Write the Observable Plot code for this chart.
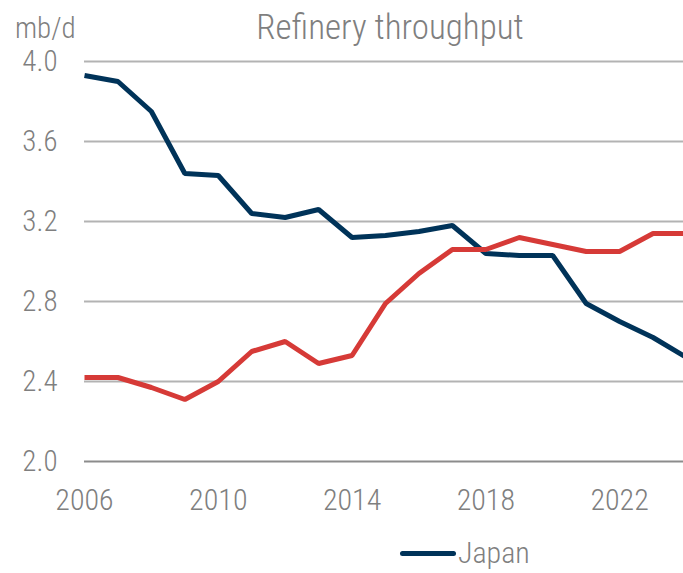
<!DOCTYPE html>
<html>
<head>
<meta charset="utf-8">
<script src="https://cdn.jsdelivr.net/npm/d3@7"></script>
<script src="https://cdn.jsdelivr.net/npm/@observablehq/plot@0.6"></script>
<style>
  html, body { margin: 0; padding: 0; background: #fff; }
  #wrap { position: relative; width: 683px; height: 573px; overflow: hidden;
    font-family: "Roboto Condensed", "Liberation Sans Narrow", "Arial Narrow", sans-serif; font-weight: 300; color: #7f7f7f; }
  #header { position: relative; height: 30px; }
  #title { position: absolute; left: 0; width: 780px; top: 9px; text-align: center; font-size: 35px; line-height: 37px; z-index: 2; }
  #unit { position: absolute; left: 15px; top: 17px; font-size: 29px; line-height: 23px; z-index: 2; }
  #legend { position: absolute; left: 400px; top: 538px; display: flex; align-items: center; font-size: 30px; line-height: 30px; }
  #legend .sw { width: 56px; height: 5px; border-radius: 3px; background: #003359; margin-right: 2px; }
</style>
</head>
<body>
<div id="wrap">
  <div id="header"><div id="title">Refinery throughput</div><div id="unit">mb/d</div></div>
  <div id="chart"></div>
  <div id="legend"><div class="sw"></div><span>Japan</span></div>
</div>
<script>
const years = [2006,2007,2008,2009,2010,2011,2012,2013,2014,2015,2016,2017,2018,2019,2020,2021,2022,2023,2024];
const japan = [3.93,3.90,3.75,3.44,3.43,3.24,3.22,3.26,3.12,3.13,3.15,3.18,3.04,3.03,3.03,2.79,2.70,2.62,2.52];
const korea = [2.42,2.42,2.37,2.31,2.40,2.55,2.60,2.49,2.53,2.79,2.94,3.06,3.06,3.12,3.085,3.05,3.05,3.14,3.14];
const xTicks = [2006,2010,2014,2018,2022];
const yTicks = [2.0,2.4,2.8,3.2,3.6,4.0];

const rows = [];
years.forEach((y, i) => {
  rows.push({year: y, value: japan[i], series: "Japan"});
  rows.push({year: y, value: korea[i], series: "Korea"});
});

const font = '"Roboto Condensed", "Liberation Sans Narrow", "Arial Narrow", sans-serif';
const chart = Plot.plot({
  width: 683,
  height: 490,
  marginTop: 31,
  marginBottom: 59,
  marginLeft: 84,
  marginRight: -3,
  style: {fontFamily: font, fontWeight: 300, color: "#7f7f7f", background: "transparent"},
  x: {domain: [2006, 2024], label: null},
  y: {domain: [2.0, 4.0], label: null},
  color: {domain: ["Japan", "Korea"], range: ["#003359", "#d63a37"]},
  marks: [
    Plot.ruleY(yTicks.filter(d => d > 2.0), {stroke: "#b3b3b3", strokeWidth: 2}),
    Plot.ruleY([2.0], {stroke: "#8c8c8c", strokeWidth: 2}),
    Plot.line(rows, {x: "year", y: "value", z: "series", stroke: "series", strokeWidth: 5, strokeLinejoin: "miter", strokeLinecap: "butt"}),
    Plot.axisX({ticks: xTicks, tickFormat: d => String(d), tickSize: 0, tickPadding: 27, fontSize: 30, fill: "#7f7f7f", label: null}),
    Plot.axisY({ticks: yTicks, tickFormat: d3.format(".1f"), tickSize: 0, tickPadding: 27, fontSize: 29, fill: "#7f7f7f", label: null})
  ]
});
document.getElementById("chart").appendChild(chart);
</script>
</body>
</html>
